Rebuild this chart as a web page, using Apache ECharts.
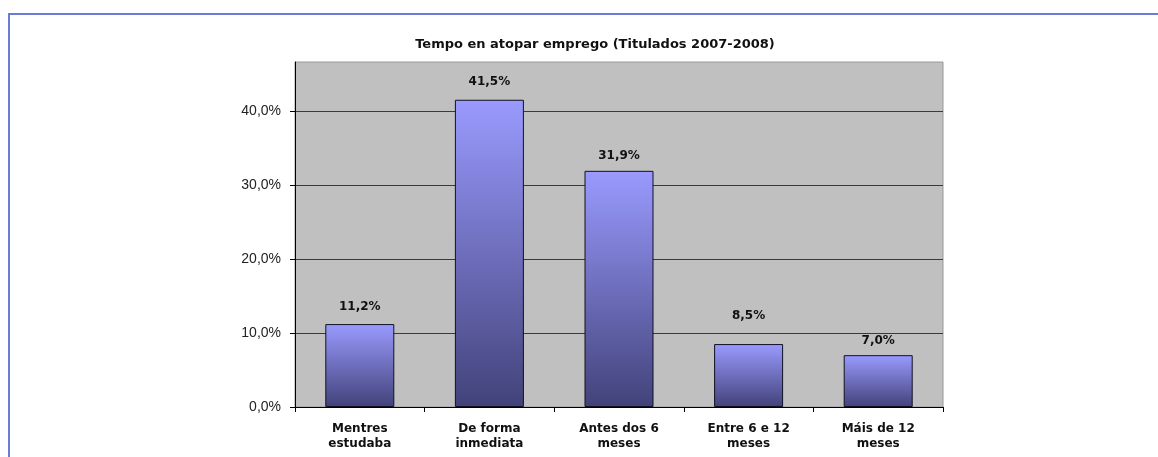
<!DOCTYPE html>
<html>
<head>
<meta charset="utf-8">
<script src="https://cdn.jsdelivr.net/npm/echarts@6/dist/echarts.min.js"></script>
<style>
  html, body { margin: 0; padding: 0; background: #fff; }
  #chart { width: 1158px; height: 457px; }
  #marco { position: absolute; left: 8px; top: 13px; right: 0; bottom: 0;
           border-top: 2px solid #6a7dd6; border-left: 2px solid #6a7dd6; pointer-events: none; }
</style>
</head>
<body>
<div id="chart"></div>
<div id="marco"></div>
<script>
// datos do grafico
var titulo = "Tempo en atopar emprego (Titulados 2007-2008)";
var categorias = ["Mentres\nestudaba", "De forma\ninmediata", "Antes dos 6\nmeses", "Entre 6 e 12\nmeses", "Máis de 12\nmeses"];
var porcentaxes = [11.2, 41.5, 31.9, 8.5, 7.0];
var tickValores = [0, 10, 20, 30, 40];

// distancia da etiqueta sobre cada barra (como no Excel orixinal)
var distEtiqueta = [11, 12, 9, 22, 8];

function formatoPct(v) {
  return v.toFixed(1).replace('.', ',') + '%';
}

var grafico = echarts.init(document.getElementById('chart'));

var datos = porcentaxes.map(function (v, i) {
  return { value: v, label: { distance: distEtiqueta[i] } };
});

var option = {
  animation: false,
  title: {
    text: titulo,
    left: 590,
    top: 33,
    textAlign: 'center',
    textStyle: { fontFamily: 'DejaVu Sans', fontSize: 13, fontWeight: 'bold', color: '#111' }
  },
  grid: {
    left: 295, top: 62, right: 215, bottom: 50,
    show: true, backgroundColor: '#c0c0c0', borderColor: '#999', borderWidth: 1
  },
  xAxis: {
    type: 'category',
    data: categorias,
    axisLine: { lineStyle: { color: '#000', width: 1 } },
    axisTick: { show: true, length: 5, lineStyle: { color: '#000' } },
    axisLabel: {
      margin: 14, lineHeight: 15, interval: 0,
      fontFamily: 'DejaVu Sans', fontSize: 12, fontWeight: 'bold', color: '#111'
    }
  },
  yAxis: {
    type: 'value',
    min: 0,
    max: 46.6,
    interval: 10,
    axisLine: { show: true, lineStyle: { color: '#000', width: 1 } },
    axisTick: { show: true, length: 5, lineStyle: { color: '#000' } },
    axisLabel: {
      showMaxLabel: false, margin: 14,
      fontFamily: 'Liberation Sans', fontSize: 14, color: '#222',
      formatter: function (v) { return tickValores.indexOf(v) >= 0 ? formatoPct(v) : ''; }
    },
    splitLine: { show: true, showMaxLine: false, lineStyle: { color: '#3a3a3a', width: 1 } }
  },
  series: [{
    type: 'bar',
    data: datos,
    barWidth: 69,
    itemStyle: {
      borderColor: '#111122',
      borderWidth: 1,
      color: new echarts.graphic.LinearGradient(0, 0, 0, 1, [
        { offset: 0, color: '#9a9aff' },
        { offset: 1, color: '#42427a' }
      ])
    },
    label: {
      show: true,
      position: 'top',
      fontFamily: 'DejaVu Sans', fontSize: 12, fontWeight: 'bold', color: '#111',
      formatter: function (p) { return formatoPct(p.value); }
    }
  }]
};

grafico.setOption(option);
</script>
</body>
</html>
